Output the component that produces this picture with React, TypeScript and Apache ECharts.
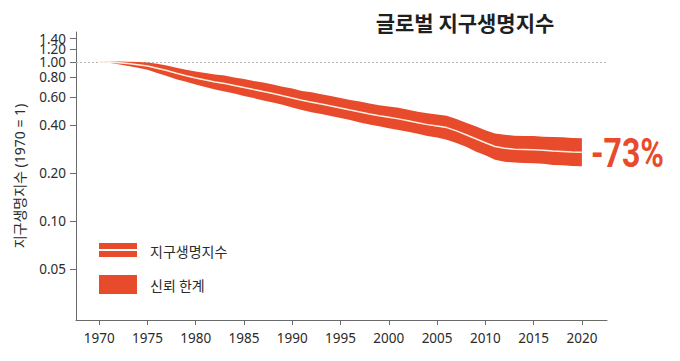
import React, { useEffect, useRef } from 'react';
import * as echarts from 'echarts';

const title = '글로벌 지구생명지수';
const yAxisName = '지구생명지수 (1970 = 1)';
const changeLabel = '-73%';
const legendLineLabel = '지구생명지수';
const legendBandLabel = '신뢰 한계';

const years = [
  1970, 1971, 1972, 1973, 1974, 1975, 1976, 1977, 1978, 1979,
  1980, 1981, 1982, 1983, 1984, 1985, 1986, 1987, 1988, 1989,
  1990, 1991, 1992, 1993, 1994, 1995, 1996, 1997, 1998, 1999,
  2000, 2001, 2002, 2003, 2004, 2005, 2006, 2007, 2008, 2009,
  2010, 2011, 2012, 2013, 2014, 2015, 2016, 2017, 2018, 2019, 2020,
];

const indexValues = [
  1.000, 0.998, 0.990, 0.978, 0.962, 0.944, 0.915, 0.885, 0.850, 0.821,
  0.795, 0.771, 0.750, 0.733, 0.712, 0.692, 0.672, 0.653, 0.635, 0.615,
  0.595, 0.575, 0.560, 0.545, 0.530, 0.515, 0.500, 0.486, 0.472, 0.460,
  0.450, 0.440, 0.428, 0.416, 0.405, 0.397, 0.388, 0.370, 0.350, 0.330,
  0.312, 0.295, 0.288, 0.284, 0.283, 0.282, 0.280, 0.277, 0.275, 0.273, 0.272,
];

const upperValues = [
  1.000, 1.004, 1.006, 1.004, 1.000, 0.992, 0.975, 0.950, 0.922, 0.893,
  0.871, 0.852, 0.836, 0.823, 0.800, 0.783, 0.760, 0.744, 0.723, 0.700,
  0.682, 0.659, 0.647, 0.629, 0.612, 0.595, 0.578, 0.566, 0.549, 0.535,
  0.527, 0.516, 0.502, 0.488, 0.478, 0.468, 0.461, 0.440, 0.416, 0.395,
  0.374, 0.356, 0.350, 0.345, 0.344, 0.343, 0.340, 0.339, 0.337, 0.334, 0.333,
];

const lowerValues = [
  1.000, 0.988, 0.968, 0.945, 0.920, 0.893, 0.853, 0.818, 0.781, 0.753,
  0.724, 0.697, 0.673, 0.653, 0.634, 0.612, 0.594, 0.573, 0.558, 0.540,
  0.519, 0.501, 0.485, 0.472, 0.459, 0.446, 0.433, 0.418, 0.406, 0.395,
  0.384, 0.375, 0.365, 0.355, 0.343, 0.336, 0.326, 0.311, 0.294, 0.275,
  0.260, 0.244, 0.237, 0.234, 0.233, 0.232, 0.230, 0.226, 0.225, 0.223, 0.222,
];

const yTickValues = [0.05, 0.1, 0.2, 0.4, 0.6, 0.8, 1.0, 1.2, 1.4];
const xTickValues = [1970, 1975, 1980, 1985, 1990, 1995, 2000, 2005, 2010, 2015, 2020];
const baselineValue = 1.0;

const BAND = '#e74b2c';
const LINE = '#fdf0e2';
const TEXT = '#2b2b2b';
const AXIS = '#6b6b6b';

const Y_MIN = 0.0241;
const Y_MAX = 1.543;

export default function App() {
  const ref = useRef<HTMLDivElement>(null);

  useEffect(() => {
    if (!ref.current) return;
    const chart = echarts.init(ref.current, null, { renderer: 'svg' });

    // The tightly packed labels (1.00, 1.20, 1.40) overlap in the reference;
    // each gets its own coincident axis so ECharts doesn't drop any of them.
    const tickGroups: number[][] = [yTickValues.filter((v) => v < 1)].concat(
      yTickValues.filter((v) => v >= 1).map((v) => [v]),
    );

    const yAxes = tickGroups.map((group, gi) => ({
      type: 'log',
      logBase: 10,
      min: Y_MIN,
      max: Y_MAX,
      position: 'left',
      offset: 0,
      axisLine: { show: gi === 0, lineStyle: { color: AXIS, width: 1 } },
      axisTick: { show: true, customValues: group, length: 6, lineStyle: { color: AXIS } },
      axisLabel: {
        customValues: group,
        color: TEXT,
        fontSize: 13.5,
        fontFamily: 'Noto Sans',
        margin: 10,
        hideOverlap: false,
        formatter: (v: number) => v.toFixed(2),
      },
      splitLine: { show: false },
      ...(gi === 0
        ? {
            name: yAxisName,
            nameLocation: 'middle',
            nameGap: 50,
            nameRotate: 90,
            nameTextStyle: { color: TEXT, fontSize: 14, fontFamily: 'Noto Sans, "Noto Sans CJK KR"' },
          }
        : {}),
    }));

    const option: any = {
      animation: false,
      backgroundColor: '#ffffff',
      grid: { left: 76, right: 73, top: 32, bottom: 41 },
      xAxis: {
        type: 'value',
        min: 1967.6,
        max: 2022.6,
        axisLine: { show: true, lineStyle: { color: AXIS, width: 1 } },
        axisTick: { show: true, customValues: xTickValues, length: 5, lineStyle: { color: AXIS } },
        axisLabel: {
          customValues: xTickValues,
          showMinLabel: true,
          showMaxLabel: true,
          color: TEXT,
          fontSize: 13.5,
          fontFamily: 'Noto Sans',
          margin: 11,
          formatter: (v: number) => String(Math.round(v)),
        },
        splitLine: { show: false },
      },
      yAxis: yAxes,
      series: [
        {
          type: 'custom',
          name: legendBandLabel,
          data: [[years[0], indexValues[0]]],
          yAxisIndex: 0,
          z: 2,
          renderItem: (_params: any, api: any) => {
            const top = years.map((yr, i) => api.coord([yr, upperValues[i]]));
            const bottom = years.map((yr, i) => api.coord([yr, lowerValues[i]])).reverse();
            return {
              type: 'polygon',
              shape: { points: top.concat(bottom) },
              style: { fill: BAND },
            };
          },
        },
        {
          type: 'line',
          name: legendLineLabel,
          data: years.map((yr, i) => [yr, indexValues[i]]),
          yAxisIndex: 0,
          showSymbol: false,
          symbol: 'none',
          z: 3,
          lineStyle: { color: LINE, width: 1.5 },
          markLine: {
            silent: true,
            symbol: 'none',
            z: 1,
            label: { show: false },
            lineStyle: { color: '#b4b4b4', type: [2, 2], width: 1 },
            data: [{ yAxis: baselineValue }],
          },
        },
      ],
      graphic: [
        {
          type: 'text',
          x: 465,
          y: 22,
          style: {
            text: title,
            font: 'bold 21px "Noto Sans CJK KR"',
            fill: '#1f1f1f',
            textAlign: 'center',
            textVerticalAlign: 'middle',
          },
        },
        {
          type: 'text',
          x: 591,
          y: 153,
          scaleX: 0.8,
          style: {
            text: changeLabel,
            font: 'bold 40px Roboto',
            fill: BAND,
            textAlign: 'left',
            textVerticalAlign: 'middle',
          },
        },
        { type: 'rect', shape: { x: 99, y: 243, width: 38, height: 6 }, style: { fill: BAND } },
        { type: 'rect', shape: { x: 99, y: 251, width: 38, height: 6 }, style: { fill: BAND } },
        {
          type: 'text',
          x: 150,
          y: 251,
          style: {
            text: legendLineLabel,
            font: '14px "Noto Sans CJK KR"',
            fill: TEXT,
            textAlign: 'left',
            textVerticalAlign: 'middle',
          },
        },
        { type: 'rect', shape: { x: 99, y: 275, width: 38, height: 19 }, style: { fill: BAND } },
        {
          type: 'text',
          x: 150,
          y: 285,
          style: {
            text: legendBandLabel,
            font: '14px "Noto Sans CJK KR"',
            fill: TEXT,
            textAlign: 'left',
            textVerticalAlign: 'middle',
          },
        },
      ],
    };

    chart.setOption(option);
    return () => chart.dispose();
  }, []);

  return (
    <div
      ref={ref}
      style={{ position: 'fixed', left: 0, top: 0, width: 680, height: 361, background: '#fff' }}
    />
  );
}
